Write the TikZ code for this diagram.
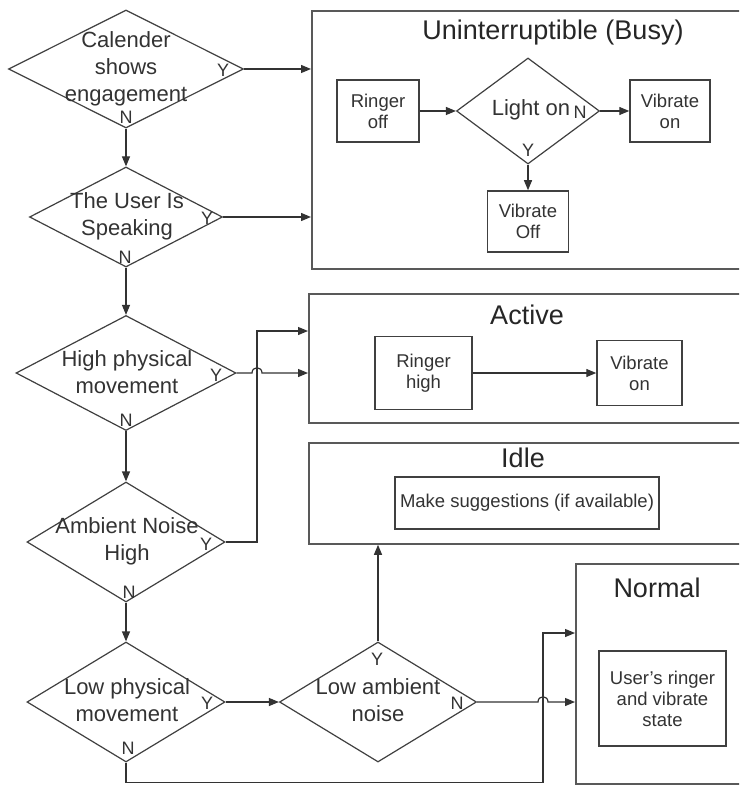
\documentclass[tikz,border=0pt]{standalone}
\usepackage{fontspec}
\setmainfont{Liberation Sans}
\usetikzlibrary{arrows.meta,shapes.geometric,calc}
\begin{document}
\begin{tikzpicture}[x=1pt,y=-1pt,
 ln/.style={draw=black!80, line width=1.2pt},
 arr/.style={ln, -{Triangle[length=10pt,width=8pt]}},
 dia/.style={draw=black!75, line width=1.2pt, diamond, inner sep=0pt},
 frame/.style={draw=black!65, line width=1.8pt, anchor=north west, inner sep=0pt},
 inbox/.style={draw=black!75, line width=1.5pt, inner sep=0pt, align=center, font=\fontsize{18.5}{21}\selectfont, text=black!80},
 dtext/.style={align=center, font=\fontsize{22}{27}\selectfont, text=black!80, inner sep=0pt},
 ttl/.style={font=\fontsize{27}{30}\selectfont, text=black!85, inner sep=0pt},
 yn/.style={font=\fontsize{18}{20}\selectfont, text=black!80, inner sep=0pt}]
\fill[white] (0,0) rectangle (739,786);
\clip (0,0) rectangle (739,786);

% state frames
\node[frame, minimum width=440, minimum height=258] (busy) at (311,10) {};
\node[frame, minimum width=440, minimum height=129] (active) at (308,293) {};
\node[frame, minimum width=440, minimum height=101] (idle) at (308,442) {};
\node[frame, minimum width=200, minimum height=220] (normal) at (575,563) {};

\node[ttl] (tbusy) at (553,33) {Uninterruptible (Busy)};
\node[ttl] (tactive) at (527,315) {Active};
\node[ttl] (tidle) at (523,458) {Idle};
\node[ttl] (tnormal) at (657,588) {Normal};

% inner boxes
\node[inbox, minimum width=82, minimum height=62] (roff) at (378,111) {Ringer\\off};
\node[inbox, minimum width=80, minimum height=62] (von) at (670,111) {Vibrate\\on};
\node[inbox, minimum width=81, minimum height=61] (voff) at (528,221.5) {Vibrate\\Off};
\node[inbox, minimum width=97, minimum height=73] (rhigh) at (423.5,373) {Ringer\\high};
\node[inbox, minimum width=85, minimum height=65] (von2) at (639.5,373) {Vibrate\\on};
\node[inbox, minimum width=264, minimum height=52] (sugg) at (527,503) {Make suggestions (if available)};
\node[inbox, minimum width=127, minimum height=95] (user) at (662.5,698.5) {User's ringer\\and vibrate\\state};

% diamonds
\node[dia, minimum width=235, minimum height=118] (d1) at (126,69) {};
\node[dtext] (d1t) at (126,69) {Calender\\shows\\engagement};
\node[yn] (d1y) at (223,70) {Y};
\node[yn] (d1n) at (126,117) {N};

\node[dia, minimum width=193, minimum height=100] (d2) at (126,217) {};
\node[dtext] (d2t) at (127,216) {The User Is\\Speaking};
\node[yn] (d2y) at (207,218) {Y};
\node[yn] (d2n) at (125,257) {N};

\node[dia, minimum width=220, minimum height=115] (d3) at (126,373) {};
\node[dtext] (d3t) at (127,372) {High physical\\movement};
\node[yn] (d3y) at (216,375) {Y};
\node[yn] (d3n) at (126,420) {N};

\node[dia, minimum width=198, minimum height=120] (d4) at (126,542) {};
\node[dtext] (d4t) at (127,541) {Ambient Noise\\High};
\node[yn] (d4y) at (206,544) {Y};
\node[yn] (d4n) at (129,592) {N};

\node[dia, minimum width=198, minimum height=120] (d5) at (126,702) {};
\node[dtext] (d5t) at (127,700) {Low physical\\movement};
\node[yn] (d5y) at (207,703) {Y};
\node[yn] (d5n) at (128,748) {N};

\node[dia, minimum width=197, minimum height=120] (d6) at (378,702) {};
\node[dtext] (d6t) at (378,700) {Low ambient\\noise};
\node[yn] (d6y) at (377,659) {Y};
\node[yn] (d6n) at (457,703) {N};

\node[dia, minimum width=143, minimum height=106] (dl) at (528,111) {};
\node[dtext] (dlt) at (531,110) {Light on};
\node[yn] (dln) at (580,112) {N};
\node[yn] (dly) at (528,150) {Y};

% helper coordinates
\coordinate (vx) at (257,0);
\coordinate (vx2) at (543,0);
\coordinate (a2) at ($(active.north west)+(0,38)$);
\coordinate (n2) at ($(normal.north west)+(0,70)$);
\coordinate (j1) at (d3.east -| vx);
\coordinate (j2) at (d6.east -| vx2);

% main column
\draw[arr] (d1.south) -- (d2.north);
\draw[arr] (d2.south) -- (d3.north);
\draw[arr] (d3.south) -- (d4.north);
\draw[arr] (d4.south) -- (d5.north);

% to busy
\draw[arr] (d1.east) -- (d1.east -| busy.west);
\draw[arr] (d2.east) -- (d2.east -| busy.west);
\draw[arr] (roff.east) -- (dl.west);
\draw[arr] (dl.east) -- (von.west);
\draw[arr] (dl.south) -- (voff.north);

% to active
\draw[arr] (d4.east) -- (d4.east -| vx) -- (vx |- a2) -- (a2);
\draw[arr] (d3.east) -- ($(j1)+(-5,0)$) .. controls ($(j1)+(-5,-7)$) and ($(j1)+(5,-7)$) .. ($(j1)+(5,0)$) -- (d3.east -| active.west);
\draw[arr] (rhigh.east) -- (rhigh.east -| von2.west);

% low branches
\draw[arr] (d5.east) -- (d6.west);
\draw[arr] (d6.north) -- (d6.north |- idle.south);
\draw[arr] (d5.south) -- ++(0,20) -| (vx2 |- n2) -- (n2);
\draw[arr] (d6.east) -- ($(j2)+(-5,0)$) .. controls ($(j2)+(-5,-7)$) and ($(j2)+(5,-7)$) .. ($(j2)+(5,0)$) -- (d6.east -| normal.west);
\end{tikzpicture}
\end{document}
